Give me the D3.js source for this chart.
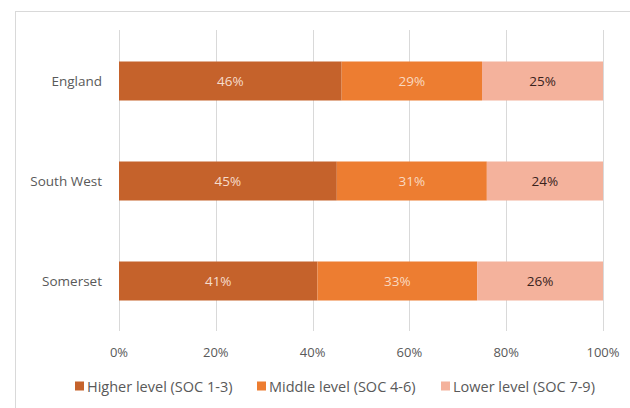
<!DOCTYPE html>
<html>
<head>
<meta charset="utf-8">
<script src="https://cdn.jsdelivr.net/npm/d3@7"></script>
<style>
  body { margin: 0; background: #fff; }
  text { font-family: "Open Sans", "Liberation Sans", sans-serif; }
</style>
</head>
<body>
<svg id="chart" width="630" height="408"></svg>
<script>
// data
var regions = ["England", "South West", "Somerset"];
var seriesNames = ["Higher level (SOC 1-3)", "Middle level (SOC 4-6)", "Lower level (SOC 7-9)"];
var higher = [46, 45, 41];
var middle = [29, 31, 33];
var lower = [25, 24, 26];
var ticks = [0, 20, 40, 60, 80, 100];

var colors = ["#c5622b", "#ed7d31", "#f4b29c"];
var labelColors = ["#f6dccb", "#f9d9c0", "#3a231d"];

var svg = d3.select("#chart");

// chart frame
svg.append("rect")
  .attr("x", 15.5).attr("y", 11.5)
  .attr("width", 630).attr("height", 420)
  .attr("fill", "none")
  .attr("stroke", "#d9d9d9");

var x = d3.scaleLinear().domain([0, 100]).range([119, 603]);
var y = d3.scaleBand().domain(regions).range([31, 331]).paddingInner(0.61).paddingOuter(0.305);

// gridlines
svg.append("g")
  .selectAll("line")
  .data(ticks)
  .enter()
  .append("line")
  .attr("x1", function (d) { return Math.round(x(d)) + 0.5 })
  .attr("x2", function (d) { return Math.round(x(d)) + 0.5 })
  .attr("y1", 30)
  .attr("y2", 331)
  .attr("stroke", "#d9d9d9")
  .attr("stroke-width", 1);

// stack
var rows = regions.map(function (r, i) {
  return { region: r, s0: higher[i], s1: middle[i], s2: lower[i] };
});
var stack = d3.stack().keys(["s0", "s1", "s2"])(rows);

var layers = svg.append("g")
  .selectAll("g")
  .data(stack)
  .enter()
  .append("g")
  .attr("fill", function (d, i) { return colors[i] });

layers.selectAll("rect")
  .data(function (d) { return d })
  .enter()
  .append("rect")
  .attr("x", function (d) { return x(d[0]) })
  .attr("y", function (d) { return y(d.data.region) })
  .attr("width", function (d) { return x(d[1]) - x(d[0]) })
  .attr("height", y.bandwidth());

// value labels
layers.each(function (layer, li) {
  d3.select(this).selectAll("text")
    .data(layer)
    .enter()
    .append("text")
    .attr("x", function (d) { return (x(d[0]) + x(d[1])) / 2 })
    .attr("y", function (d) { return y(d.data.region) + y.bandwidth() / 2 })
    .attr("text-anchor", "middle")
    .attr("dominant-baseline", "central")
    .style("font-size", "13.5px")
    .style("fill", labelColors[li])
    .text(function (d) { return (d[1] - d[0]) + "%" });
});

// category labels
svg.append("g")
  .selectAll("text")
  .data(regions)
  .enter()
  .append("text")
  .attr("x", 102)
  .attr("y", function (d) { return y(d) + y.bandwidth() / 2 })
  .attr("text-anchor", "end")
  .attr("dominant-baseline", "central")
  .style("font-size", "13.5px")
  .style("fill", "#595959")
  .text(function (d) { return d });

// x axis labels
svg.append("g")
  .selectAll("text")
  .data(ticks)
  .enter()
  .append("text")
  .attr("x", function (d) { return x(d) })
  .attr("y", 352)
  .attr("text-anchor", "middle")
  .attr("dominant-baseline", "central")
  .style("font-size", "13px")
  .style("fill", "#595959")
  .text(function (d) { return d + "%" });

// legend
var legendX = [75, 257, 441];
var legend = svg.append("g")
  .selectAll("g")
  .data(seriesNames)
  .enter()
  .append("g")
  .attr("transform", function (d, i) { return "translate(" + legendX[i] + ",386)" });

legend.append("rect")
  .attr("x", 0).attr("y", -4.5)
  .attr("width", 9).attr("height", 9)
  .attr("fill", function (d, i) { return colors[i] });

legend.append("text")
  .attr("x", 12)
  .attr("y", 0)
  .attr("dominant-baseline", "central")
  .style("font-size", "14.5px")
  .style("fill", "#595959")
  .text(function (d) { return d });
</script>
</body>
</html>
